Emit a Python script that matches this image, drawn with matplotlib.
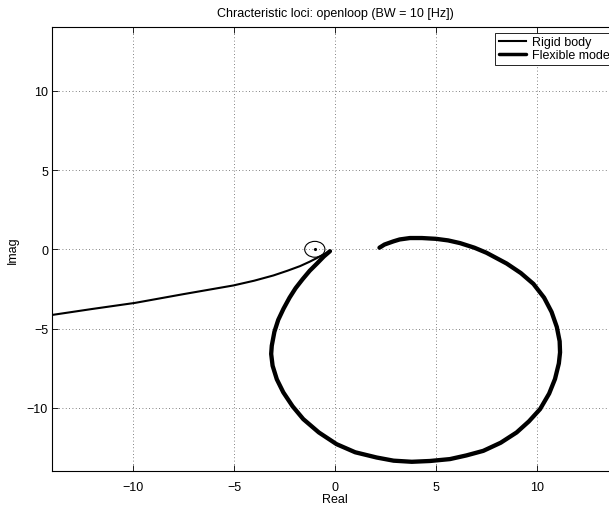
import numpy as np
import matplotlib
matplotlib.use('Agg')
import matplotlib.pyplot as plt
from matplotlib.patches import Circle

plt.rcParams['font.family'] = ['Liberation Sans', 'DejaVu Sans']
plt.rcParams['font.size'] = 9

# rigid body locus (thin)
rigid_re = [-13.95, -12.0, -9.9, -7.51, -5.03, -4.0, -3.05, -2.35, -1.73, -1.25, -0.91, -0.35]
rigid_im = [-4.13, -3.76, -3.38, -2.83, -2.28, -1.98, -1.65, -1.35, -1.06, -0.78, -0.56, -0.18]

# flexible mode locus (thick)
flex_re = [-0.25, -0.55, -0.91, -1.25, -1.60, -1.95, -2.25, -2.55, -2.81, -3.00,
           -3.13, -3.16, -3.09, -2.88, -2.56, -2.10, -1.57, -0.80, 0.08, 1.00,
           2.06, 2.90, 3.80, 4.70, 5.69, 6.50, 7.34, 8.20, 8.99, 9.60,
           10.15, 10.60, 10.89, 11.08, 11.14, 11.12, 10.98, 10.72, 10.35, 9.82,
           9.20, 8.50, 7.50, 6.90, 6.19, 5.60, 5.00, 4.30, 3.71, 3.20,
           2.89, 2.45, 2.20]
flex_im = [-0.12, -0.45, -0.92, -1.35, -1.88, -2.45, -3.05, -3.75, -4.45, -5.20,
           -6.08, -6.60, -7.34, -8.20, -9.02, -9.90, -10.71, -11.55, -12.29, -12.80,
           -13.13, -13.33, -13.40, -13.35, -13.23, -13.00, -12.71, -12.20, -11.55, -10.85,
           -10.08, -9.10, -8.18, -7.20, -6.50, -5.80, -4.90, -3.95, -3.05, -2.18,
           -1.50, -0.90, -0.22, 0.10, 0.39, 0.56, 0.66, 0.71, 0.71, 0.62,
           0.50, 0.30, 0.10]

crit_pt = (-1.0, 0.0)
crit_radius = 0.5

ticks = [-10, -5, 0, 5, 10]

fig = plt.figure(figsize=(6.09, 5.06), dpi=100)
ax = fig.add_axes([0.0857, 0.0666, 0.9288, 0.8775])

ax.plot(rigid_re, rigid_im, color='black', lw=1.5, label='Rigid body')
ax.plot(flex_re, flex_im, color='black', lw=3.1, solid_capstyle='round',
        label='Flexible mode')

# -1 point with a small circle around it
ax.add_patch(Circle(crit_pt, crit_radius, fill=False, ec='black', lw=0.8))
ax.plot([crit_pt[0]], [crit_pt[1]], '.', color='black', ms=2.5)

ax.set_xlim(-14, 14)
ax.set_ylim(-14, 14)
ax.set_xticks(ticks)
ax.set_yticks(ticks)
ax.grid(True, linestyle=(0, (1, 3)), color='0.35', lw=0.6)
ax.tick_params(direction='in', length=4, width=0.6, top=True, right=True)
ax.tick_params(axis='x', pad=7)
ax.tick_params(axis='y', pad=3)
for s in ax.spines.values():
    s.set_linewidth(0.8)

ax.set_title('Chracteristic loci: openloop (BW = 10 [Hz])', fontsize=9, pad=8)
ax.set_xlabel('Real', fontsize=9, labelpad=0)
ax.set_ylabel('Imag', fontsize=9, labelpad=6)

leg = ax.legend(loc='upper right', bbox_to_anchor=(0.992, 0.988), borderaxespad=0,
                handlelength=2.2, handletextpad=0.45, labelspacing=0.05,
                borderpad=0.3, fancybox=False, framealpha=1, edgecolor='black')
leg.get_frame().set_linewidth(0.6)
leg.get_lines()[0].set_linewidth(1.5)
leg.get_lines()[1].set_linewidth(2.5)

fig.savefig('out.png', dpi=100)
